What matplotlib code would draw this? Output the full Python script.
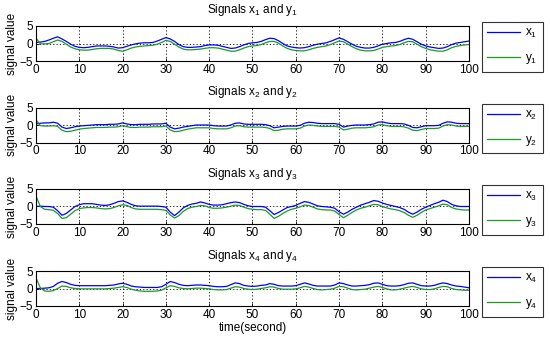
import numpy as np
import matplotlib
matplotlib.use("Agg")
import matplotlib.pyplot as plt

plt.rcParams['font.family'] = ['Liberation Sans', 'DejaVu Sans']
plt.rcParams['mathtext.fontset'] = 'custom'
plt.rcParams['mathtext.rm'] = 'Liberation Sans'
plt.rcParams['mathtext.it'] = 'Liberation Sans'

time = np.arange(0, 101, 1)

x1 = [0.3,0.4,0.6,1.0,1.5,1.9,1.3,0.6,-0.2,-0.8,
      -1.1,-1.2,-1.1,-0.9,-0.7,-0.7,-0.7,-0.8,-1.0,-1.3,
      -1.2,-0.8,-0.4,-0.1,0.1,0.2,0.2,0.3,0.7,1.2,
      1.7,1.3,0.6,-0.3,-0.9,-1.1,-1.1,-1.0,-0.9,-0.6,
      -0.4,-0.4,-0.5,-0.8,-1.1,-1.4,-1.3,-0.9,-0.4,0.0,
      0.2,0.3,0.6,1.1,1.5,1.4,0.8,0.0,-0.7,-1.0,
      -1.2,-1.3,-1.2,-0.9,-0.5,-0.2,0.0,0.2,0.6,1.1,
      1.6,1.2,0.5,-0.2,-0.8,-1.1,-1.3,-1.3,-1.1,-0.7,
      -0.2,0.0,0.2,0.3,0.6,1.1,1.5,1.2,0.5,-0.2,
      -0.7,-1.0,-1.2,-1.4,-1.3,-0.9,-0.3,0.1,0.3,0.5,0.7]
y1 = [1.6,-0.1,-0.1,0.0,0.5,1.0,0.6,-0.2,-1.0,-1.5,
      -1.8,-1.9,-1.9,-1.7,-1.5,-1.4,-1.4,-1.4,-1.6,-2.0,
      -2.2,-1.8,-1.3,-1.0,-0.8,-0.7,-0.6,-0.5,-0.2,0.3,
      0.9,0.6,-0.2,-1.0,-1.6,-1.8,-1.8,-1.7,-1.6,-1.4,
      -1.2,-1.2,-1.3,-1.6,-1.9,-2.2,-2.2,-1.8,-1.3,-0.9,
      -0.7,-0.6,-0.3,0.2,0.6,0.6,0.1,-0.7,-1.4,-1.8,
      -2.0,-2.1,-2.1,-1.8,-1.4,-1.1,-0.9,-0.7,-0.3,0.2,
      0.7,0.5,-0.2,-0.9,-1.5,-1.9,-2.1,-2.1,-2.0,-1.6,
      -1.1,-0.9,-0.7,-0.6,-0.3,0.2,0.6,0.5,-0.2,-0.9,
      -1.4,-1.8,-2.0,-2.2,-2.2,-1.8,-1.2,-0.8,-0.6,-0.4,-0.3]

x2 = [0.3,0.5,0.6,0.6,0.8,0.5,-0.6,-1.0,-0.8,-0.5,
      -0.3,-0.2,-0.1,0.0,0.1,0.1,0.1,0.2,0.2,0.3,
      0.6,0.3,0.1,0.1,0.2,0.2,0.2,0.3,0.3,0.3,
      0.5,-0.6,-1.1,-0.9,-0.6,-0.4,-0.2,0.0,0.0,0.0,
      0.0,-0.2,-0.3,-0.3,-0.3,0.0,0.5,0.6,0.3,0.2,
      0.2,0.2,0.2,0.1,-0.2,-0.8,-0.6,-0.4,-0.3,-0.3,
      -0.3,-0.1,0.5,0.8,0.7,0.5,0.4,0.4,0.4,0.4,
      0.2,-0.6,-0.3,-0.1,0.0,0.0,0.0,0.1,0.3,0.8,
      0.9,0.6,0.4,0.4,0.4,0.3,-0.1,-0.7,-0.8,-0.5,
      -0.2,-0.2,-0.2,-0.1,0.5,0.9,0.8,0.5,0.4,0.4,0.4]
y2 = [1.5,-0.2,-0.3,-0.3,-0.2,-0.4,-1.5,-1.9,-1.8,-1.5,
      -1.2,-1.0,-0.9,-0.8,-0.7,-0.7,-0.7,-0.6,-0.6,-0.5,
      -0.2,-0.5,-0.7,-0.7,-0.6,-0.6,-0.6,-0.5,-0.5,-0.5,
      -0.3,-1.4,-1.9,-1.8,-1.5,-1.2,-1.0,-0.8,-0.8,-0.8,
      -0.8,-1.0,-1.1,-1.1,-1.1,-0.8,-0.3,-0.2,-0.5,-0.6,
      -0.6,-0.6,-0.6,-0.7,-1.0,-1.6,-1.5,-1.2,-1.1,-1.1,
      -1.1,-0.9,-0.3,0.0,-0.1,-0.3,-0.4,-0.4,-0.4,-0.4,
      -0.6,-1.4,-1.2,-0.9,-0.8,-0.8,-0.8,-0.7,-0.5,0.0,
      0.1,-0.2,-0.4,-0.4,-0.4,-0.5,-0.9,-1.5,-1.6,-1.3,
      -1.0,-1.0,-1.0,-0.9,-0.3,0.1,0.0,-0.3,-0.4,-0.4,-0.4]

x3 = [0.0,0.1,0.0,0.0,-0.2,-1.2,-2.5,-2.0,-1.0,0.0,
      0.5,0.8,0.8,0.8,0.6,0.4,0.3,0.5,0.9,1.4,
      1.6,1.2,0.6,0.2,0.1,0.1,0.1,0.1,0.1,0.0,
      -0.2,-1.6,-2.6,-1.6,-0.4,0.3,0.7,0.9,1.3,1.0,
      0.6,0.4,0.4,0.5,0.8,1.1,1.3,1.1,0.6,0.2,
      0.0,0.0,0.0,-0.2,-1.2,-2.3,-1.7,-1.0,-0.3,0.0,
      0.3,0.9,1.4,1.2,0.7,0.2,0.0,-0.1,-0.2,-0.5,
      -1.5,-2.2,-1.6,-0.8,-0.2,0.4,0.8,1.2,1.7,1.5,
      1.0,0.6,0.3,0.0,-0.3,-0.8,-1.6,-2.2,-1.6,-0.8,
      -0.2,0.3,0.8,1.2,1.8,1.4,0.6,0.2,0.0,0.0,0.0]
y3 = [3.0,0.0,-0.8,-0.9,-1.1,-2.0,-3.4,-3.2,-2.2,-1.2,
      -0.6,-0.4,-0.3,-0.3,-0.4,-0.6,-0.7,-0.6,-0.3,0.2,
      0.5,0.3,-0.3,-0.7,-0.8,-0.8,-0.8,-0.8,-0.8,-0.9,
      -1.1,-2.4,-3.3,-2.6,-1.4,-0.6,-0.2,0.0,0.3,0.2,
      -0.3,-0.5,-0.5,-0.4,-0.2,0.1,0.4,0.3,-0.2,-0.6,
      -0.8,-0.9,-0.9,-1.1,-2.2,-3.4,-2.8,-2.0,-1.3,-0.8,
      -0.5,-0.1,0.4,0.3,-0.2,-0.7,-0.9,-1.0,-1.0,-1.3,
      -2.3,-3.2,-2.5,-1.7,-1.0,-0.5,-0.2,0.2,0.6,0.5,
      0.0,-0.4,-0.7,-0.9,-1.2,-1.7,-2.5,-3.1,-2.5,-1.7,
      -1.0,-0.6,-0.2,0.2,0.7,0.5,-0.3,-0.7,-0.9,-1.0,-1.0]

x4 = [0.0,0.0,0.1,0.2,0.6,1.5,2.0,1.7,1.2,0.9,
      0.8,0.8,0.8,0.8,0.8,0.8,0.8,0.9,1.0,1.3,
      1.5,1.2,0.7,0.5,0.4,0.3,0.3,0.3,0.3,0.5,
      1.2,2.0,1.7,1.2,0.9,0.8,0.9,1.0,1.0,0.9,
      0.8,0.6,0.5,0.5,0.6,1.1,1.6,1.4,0.9,0.7,
      0.6,0.7,0.9,1.0,1.4,1.2,0.8,0.7,0.7,0.7,
      0.8,1.2,1.6,1.3,0.9,0.7,0.7,0.7,0.7,1.0,
      1.6,1.4,1.0,0.7,0.7,0.8,0.9,1.1,1.5,1.6,
      1.2,0.8,0.7,0.7,0.8,1.1,1.5,1.6,1.2,0.8,
      0.7,0.7,0.9,1.3,1.6,1.4,1.0,0.7,0.6,0.4,0.2]
y4 = [3.0,0.2,-0.7,-0.8,-0.6,0.0,0.7,0.6,0.2,0.0,
      -0.1,-0.1,-0.1,-0.1,-0.1,-0.1,-0.1,0.0,0.1,0.3,
      0.5,0.3,-0.2,-0.5,-0.7,-0.8,-0.8,-0.8,-0.7,-0.5,
      0.2,0.8,0.6,0.2,0.0,-0.1,0.0,0.1,0.1,0.0,
      -0.1,-0.3,-0.4,-0.4,-0.3,0.1,0.5,0.4,0.0,-0.2,
      -0.3,-0.2,0.0,0.2,0.5,0.4,0.0,-0.2,-0.2,-0.2,
      -0.1,0.2,0.6,0.4,0.0,-0.3,-0.4,-0.3,-0.2,0.1,
      0.6,0.5,0.1,-0.3,-0.4,-0.3,-0.2,0.1,0.4,0.6,
      0.3,-0.1,-0.4,-0.4,-0.2,0.1,0.4,0.6,0.3,-0.1,
      -0.3,-0.3,-0.1,0.3,0.6,0.5,0.0,-0.3,-0.4,-0.5,-0.5]

xs = [x1, x2, x3, x4]
ys = [y1, y2, y3, y4]
xticks = list(range(0, 101, 10))
yticks = [-5, 0, 5]

W, H = 550, 343
fig = plt.figure(figsize=(W / 100, H / 100), dpi=100)
tops = [26, 107.5, 189, 271]
ax_h = 35
left, right = 36, 469
blue = '#0000ff'
green = '#1f9a1f'

for i in range(4):
    top = tops[i]
    ax = fig.add_axes([left / W, 1 - (top + ax_h) / H, (right - left) / W, ax_h / H])
    ax.plot(time, xs[i], color=blue, lw=0.9, label='x$_{%d}$' % (i + 1))
    ax.plot(time, ys[i], color=green, lw=0.9, label='y$_{%d}$' % (i + 1))
    ax.set_xlim(0, 100)
    ax.set_ylim(-5, 5)
    ax.set_xticks(xticks)
    ax.set_yticks(yticks)
    ax.tick_params(direction='in', length=2, labelsize=8.5, pad=2, width=0.6)
    ax.grid(True, color='black', linestyle=(0, (1.5, 2.5)), linewidth=0.6)
    for s in ax.spines.values():
        s.set_linewidth(0.8)
    ax.set_title('Signals x$_{%d}$ and y$_{%d}$' % (i + 1, i + 1), fontsize=8.5, pad=9)
    ax.set_ylabel('signal value', fontsize=8.5, labelpad=1)
    if i == 3:
        ax.set_xlabel('time(second)', fontsize=8.5, labelpad=1)
    leg = ax.legend(loc='upper left', bbox_to_anchor=(482 / W, 1 - (top - 4) / H),
                    bbox_transform=fig.transFigure, fontsize=8.5, frameon=True,
                    fancybox=False, edgecolor='black', handlelength=2.8,
                    labelspacing=1.0, borderpad=0.45, handletextpad=0.4,
                    borderaxespad=0)
    leg.get_frame().set_linewidth(0.8)

fig.savefig('out.png', dpi=100)
